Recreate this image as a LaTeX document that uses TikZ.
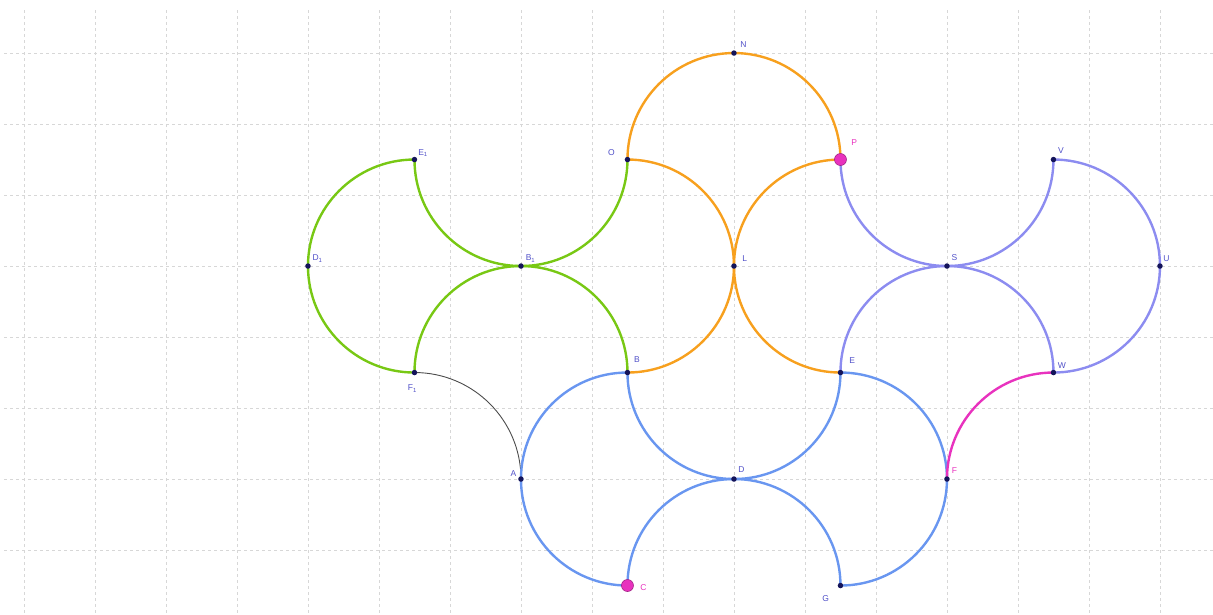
\documentclass[tikz,border=0pt]{standalone}
\usepackage{fontspec}
\setmainfont{Liberation Sans}
\usetikzlibrary{calc}
\definecolor{gridc}{RGB}{215,215,215}
\definecolor{orng}{RGB}{247,160,30}
\definecolor{grn}{RGB}{120,200,20}
\definecolor{blu}{RGB}{105,150,240}
\definecolor{prp}{RGB}{140,140,240}
\definecolor{mag}{RGB}{232,50,190}
\definecolor{ptc}{RGB}{20,20,90}
\definecolor{lblc}{RGB}{80,80,200}
\tikzset{
  gridline/.style={gridc, line width=0.8pt, dash pattern=on 3pt off 3pt},
  arcline/.style={line width=2.4pt},
  thinarc/.style={line width=0.9pt, black!70},
  pt/.style={circle, fill=ptc, inner sep=0pt, minimum size=5.5pt},
  bigpt/.style={circle, fill=mag, draw=mag!70!black, line width=0.6pt, inner sep=0pt, minimum size=12pt},
  lbl/.style={font=\fontsize{8.5}{9}\selectfont, text=lblc, inner sep=1pt},
  mlbl/.style={lbl, text=mag}
}
\begin{document}
\begin{tikzpicture}[x=106.5pt, y=106.5pt]
\useasboundingbox (-6.892,-3.268) rectangle (4.498,2.498);
% grid
\foreach \k in {0,...,16} {
  \draw[gridline] ({-20/3+2*\k/3},2.4) -- ({-20/3+2*\k/3},-3.268);
}
\foreach \k in {0,...,7} {
  \draw[gridline] (-6.85,{2-2*\k/3}) -- (4.498,{2-2*\k/3});
}
% points
\coordinate (N) at (0,2);
\coordinate (O) at (-1,1);
\coordinate (P) at (1,1);
\coordinate (E1) at (-3,1);
\coordinate (V) at (3,1);
\coordinate (D1) at (-4,0);
\coordinate (B1) at (-2,0);
\coordinate (L) at (0,0);
\coordinate (S) at (2,0);
\coordinate (U) at (4,0);
\coordinate (F1) at (-3,-1);
\coordinate (B) at (-1,-1);
\coordinate (E) at (1,-1);
\coordinate (W) at (3,-1);
\coordinate (A) at (-2,-2);
\coordinate (D) at (0,-2);
\coordinate (F) at (2,-2);
\coordinate (C) at (-1,-3);
\coordinate (G) at (1,-3);
% orange arcs
\draw[arcline, orng] (O) arc[start angle=180, end angle=0, radius=1];
\draw[arcline, orng] (O) arc[start angle=90, end angle=-90, radius=1];
\draw[arcline, orng] (P) arc[start angle=90, end angle=270, radius=1];
% green arcs
\draw[arcline, grn] (E1) arc[start angle=180, end angle=360, radius=1];
\draw[arcline, grn] (E1) arc[start angle=90, end angle=270, radius=1];
\draw[arcline, grn] (F1) arc[start angle=180, end angle=0, radius=1];
% black arc
\draw[thinarc] (F1) arc[start angle=90, end angle=0, radius=1];
% blue arcs
\draw[arcline, blu] (B) arc[start angle=90, end angle=270, radius=1];
\draw[arcline, blu] (B) arc[start angle=180, end angle=360, radius=1];
\draw[arcline, blu] (C) arc[start angle=180, end angle=0, radius=1];
\draw[arcline, blu] (E) arc[start angle=90, end angle=-90, radius=1];
% purple arcs
\draw[arcline, prp] (P) arc[start angle=180, end angle=360, radius=1];
\draw[arcline, prp] (V) arc[start angle=90, end angle=-90, radius=1];
\draw[arcline, prp] (E) arc[start angle=180, end angle=0, radius=1];
% magenta arc
\draw[arcline, mag] (F) arc[start angle=180, end angle=90, radius=1];
% point markers
\foreach \p in {N,O,E1,V,D1,B1,L,S,U,F1,B,E,W,A,D,F,G}
  \node[pt] (m\p) at (\p) {};
\node[bigpt] (mP) at (P) {};
\node[bigpt] (mC) at (C) {};
% labels
\node[lbl] (lN) at ($(N)+(0.09,0.08)$) {N};
\node[lbl] (lO) at ($(O)+(-0.15,0.07)$) {O};
\node[mlbl] (lP) at ($(P)+(0.13,0.16)$) {P};
\node[lbl] (lE1) at ($(E1)+(0.08,0.06)$) {E\textsubscript{1}};
\node[lbl] (lV) at ($(V)+(0.07,0.08)$) {V};
\node[lbl] (lD1) at ($(D1)+(0.09,0.07)$) {D\textsubscript{1}};
\node[lbl] (lB1) at ($(B1)+(0.09,0.07)$) {B\textsubscript{1}};
\node[lbl] (lL) at ($(L)+(0.1,0.07)$) {L};
\node[lbl] (lS) at ($(S)+(0.07,0.08)$) {S};
\node[lbl] (lU) at ($(U)+(0.06,0.07)$) {U};
\node[lbl] (lF1) at ($(F1)+(-0.02,-0.15)$) {F\textsubscript{1}};
\node[lbl] (lB) at ($(B)+(0.09,0.12)$) {B};
\node[lbl] (lE) at ($(E)+(0.11,0.11)$) {E};
\node[lbl] (lW) at ($(W)+(0.08,0.07)$) {W};
\node[lbl] (lA) at ($(A)+(-0.07,0.05)$) {A};
\node[lbl] (lD) at ($(D)+(0.07,0.09)$) {D};
\node[mlbl] (lF) at ($(F)+(0.07,0.08)$) {F};
\node[mlbl] (lC) at ($(C)+(0.15,-0.02)$) {C};
\node[lbl] (lG) at ($(G)+(-0.14,-0.12)$) {G};
\end{tikzpicture}
\end{document}
